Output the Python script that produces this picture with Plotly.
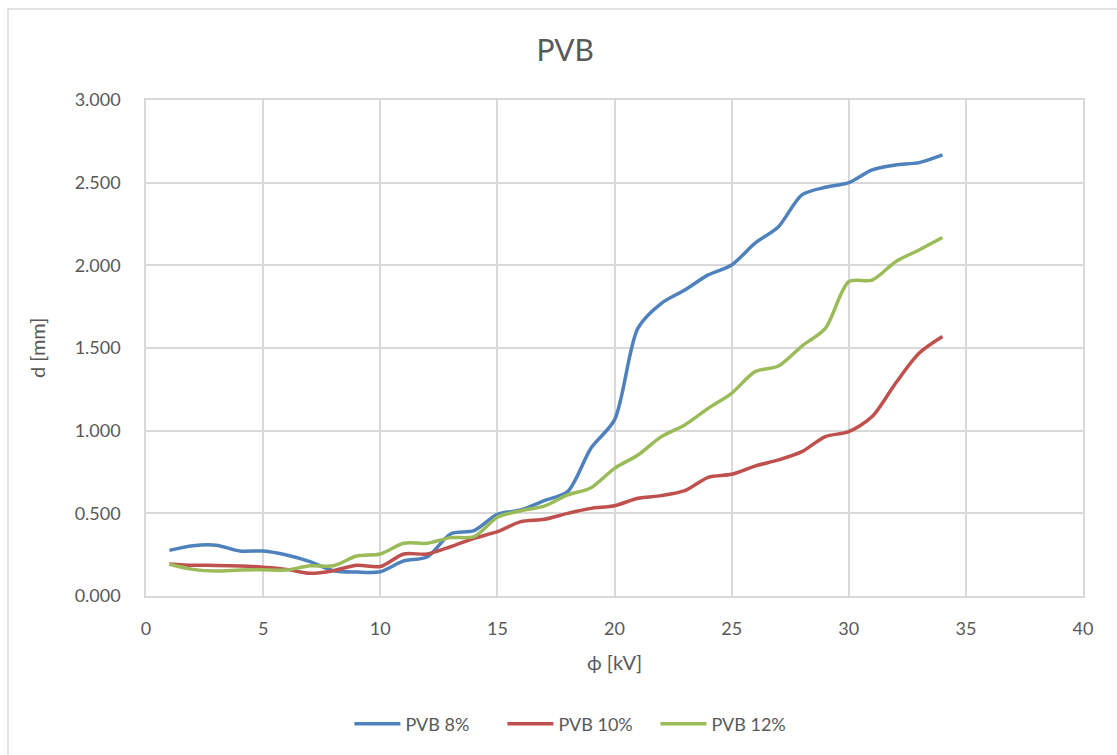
import plotly.graph_objects as go

# Applied voltage [kV]
voltage_kv = list(range(1, 35))

# Measured diameter d [mm] for each PVB concentration
pvb_8 = [0.276, 0.304, 0.307, 0.272, 0.272, 0.248, 0.208, 0.153, 0.145, 0.147,
         0.212, 0.236, 0.375, 0.395, 0.494, 0.520, 0.577, 0.631, 0.895, 1.065,
         1.620, 1.770, 1.851, 1.942, 2.002, 2.134, 2.234, 2.426, 2.472, 2.500,
         2.577, 2.607, 2.621, 2.668]
pvb_10 = [0.194, 0.186, 0.185, 0.182, 0.174, 0.161, 0.137, 0.153, 0.186, 0.178,
          0.254, 0.254, 0.298, 0.349, 0.389, 0.450, 0.464, 0.500, 0.530, 0.546,
          0.591, 0.607, 0.637, 0.718, 0.736, 0.786, 0.823, 0.873, 0.964, 0.994,
          1.085, 1.287, 1.468, 1.569]
pvb_12 = [0.192, 0.161, 0.151, 0.157, 0.159, 0.157, 0.183, 0.183, 0.242, 0.254,
          0.319, 0.319, 0.353, 0.359, 0.476, 0.516, 0.544, 0.611, 0.655, 0.772,
          0.853, 0.964, 1.035, 1.135, 1.226, 1.357, 1.391, 1.512, 1.619, 1.901,
          1.911, 2.022, 2.093, 2.168]

series_names = ["PVB 8%", "PVB 10%", "PVB 12%"]
series_colors = ["#4F81BD", "#C0504D", "#9BBB59"]

x_ticks = [0, 5, 10, 15, 20, 25, 30, 35, 40]
y_ticks = [0, 0.5, 1.0, 1.5, 2.0, 2.5, 3.0]

TEXT = "#595959"
GRID = "#D9D9D9"
FONT = "Lato"

fig = go.Figure()
for name, color, vals in zip(series_names, series_colors, [pvb_8, pvb_10, pvb_12]):
    fig.add_trace(go.Scatter(
        x=voltage_kv, y=vals, name=name, mode="lines",
        line=dict(color=color, width=3.5, shape="spline", smoothing=0.8),
    ))

fig.update_layout(
    width=1117, height=755,
    paper_bgcolor="white", plot_bgcolor="white",
    margin=dict(l=146, r=34, t=100, b=159),
    font=dict(family=FONT, color=TEXT, size=18),
    title=dict(text="PVB", x=0.506, xanchor="center", y=50 / 755 * -1 + 1,
               yanchor="middle", font=dict(size=30, color=TEXT, family=FONT)),
    showlegend=True,
    legend=dict(orientation="h", x=0.462, xanchor="center", y=-0.258,
                yanchor="middle", font=dict(size=18, color=TEXT),
                itemwidth=46, entrywidth=92, tracegroupgap=0),
    xaxis=dict(range=[0, 40], tickvals=x_ticks, showgrid=True, gridcolor=GRID,
               gridwidth=1.5, showline=True, linecolor=GRID, linewidth=1.5,
               mirror=True, zeroline=False, ticks="", ticklabelstandoff=16,
               tickfont=dict(size=18, color=TEXT)),
    yaxis=dict(range=[0, 3.0], tickvals=y_ticks, tickformat=".3f", showgrid=True,
               gridcolor=GRID, gridwidth=1.5, showline=True, linecolor=GRID,
               linewidth=1.5, mirror=True, zeroline=False, ticks="",
               ticklabelstandoff=20, tickfont=dict(size=18, color=TEXT)),
    annotations=[
        dict(text="ϕ [kV]", xref="paper", yref="paper", x=(614 - 146) / 937,
             y=(596 - 662) / 496, showarrow=False, xanchor="center",
             yanchor="middle", font=dict(size=20, color=TEXT)),
        dict(text="d [mm]", xref="paper", yref="paper", x=(37 - 146) / 937,
             y=(596 - 348) / 496, showarrow=False, textangle=-90,
             xanchor="center", yanchor="middle", font=dict(size=20, color=TEXT)),
    ],
    shapes=[
        # chart area frame
        dict(type="rect", xref="paper", yref="paper",
             x0=(8 - 146) / 937, x1=1.2, y0=-0.5, y1=(596 - 9) / 496,
             line=dict(color=GRID, width=1.5), fillcolor="rgba(0,0,0,0)",
             layer="below"),
    ],
)

fig.write_html("out.html")
